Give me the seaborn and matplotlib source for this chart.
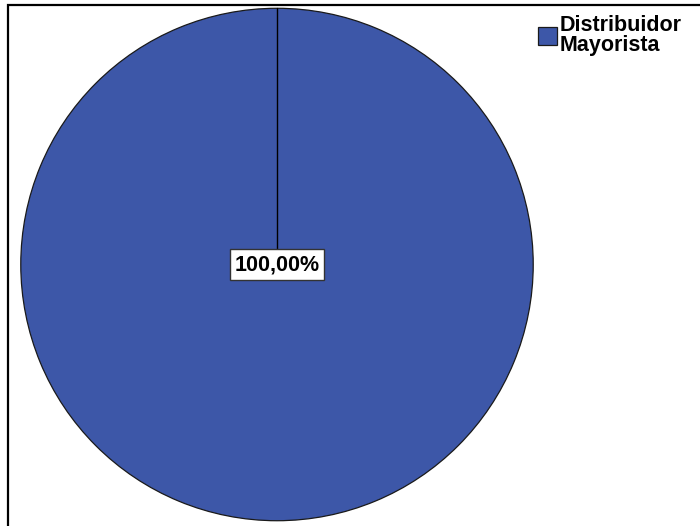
import matplotlib
matplotlib.use("Agg")
import matplotlib.pyplot as plt
import seaborn as sns
from matplotlib.patches import Rectangle
import numpy as np

categories = ["Distribuidor\nMayorista"]
values = [100.0]
labels = ["100,00%"]
colors = ["#3D57A8"]

sns.set_theme(style="white")
plt.rcParams['font.family'] = ['Liberation Sans', 'DejaVu Sans']
plt.rcParams['text.color'] = 'black'

fig = plt.figure(figsize=(7.0, 5.26), dpi=100)
fig.patch.set_facecolor("white")

# outer frame (partially cropped)
fig.patches.append(Rectangle((8/700, -0.1), 1.2, 1.1 - 5/526, transform=fig.transFigure,
                             fill=False, edgecolor="black", linewidth=1.6, zorder=0))

ax = fig.add_axes([19.5/700, 4/526, 515/700, 515/526])
wedges, _ = ax.pie(values, colors=colors, startangle=90, counterclock=False,
                   wedgeprops=dict(edgecolor="#1a1a1a", linewidth=0.9))
ax.set_xlim(-1.005, 1.005)
ax.set_ylim(-1.005, 1.005)
ax.set_aspect("equal")
ax.axis("off")

# slice boundary line at start angle
ang = np.deg2rad(90)
ax.plot([0, np.cos(ang)], [0, np.sin(ang)], color="black", linewidth=1.0, zorder=3)

ax.text(0, 0.0, labels[0], ha="center", va="center", fontsize=15.5, fontweight="bold",
        color="black", zorder=4,
        bbox=dict(boxstyle="square,pad=0.22", facecolor="white", edgecolor="#333333", linewidth=1.0))

leg = fig.legend(wedges, categories, loc="upper left", bbox_to_anchor=(523/700, 1 - 0/526),
                 frameon=False, fontsize=15.5, handlelength=0.9, handleheight=0.9,
                 handletextpad=0.12, labelspacing=0.2, borderpad=0.2)
for t in leg.get_texts():
    t.set_fontweight("bold")
    t.set_color("black")
    t.set_linespacing(0.95)

fig.savefig("out.png", dpi=100)
